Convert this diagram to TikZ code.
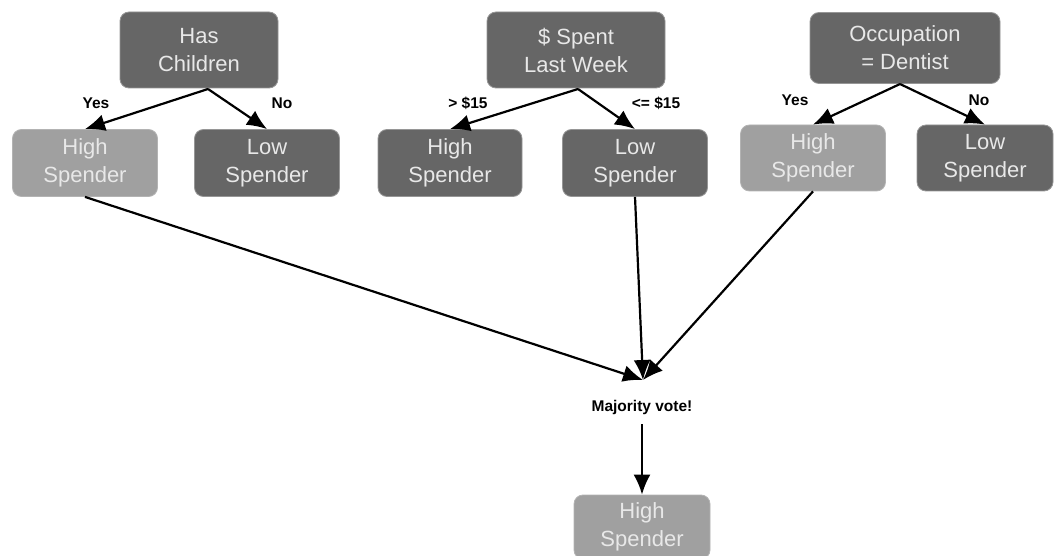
\documentclass[tikz,border=0pt]{standalone}
\usepackage{fontspec}
\setmainfont{Liberation Sans}
\usetikzlibrary{arrows.meta}
\definecolor{darkbox}{RGB}{102,102,102}
\definecolor{lightbox}{RGB}{160,160,160}
\definecolor{boxtext}{RGB}{232,232,232}
\definecolor{boxedge}{RGB}{150,150,150}
\tikzset{
  box/.style={draw=boxedge, line width=0.8pt, rounded corners=9pt, text=boxtext, align=center,
    font=\fontsize{22}{28}\selectfont, inner sep=0pt},
  darkb/.style={box, fill=darkbox},
  lightb/.style={box, fill=lightbox, draw=lightbox!80!white},
  conn/.style={line width=2.2pt, -{Latex[length=20pt,width=17pt]}},
  lab/.style={font=\bfseries\fontsize{15.5}{18}\selectfont, text=black},
}
\begin{document}
\begin{tikzpicture}[x=1pt,y=-1pt]
\useasboundingbox[fill=white] (0,0) rectangle (1054,556);
% roots
\node[darkb, minimum width=158pt, minimum height=76pt] (hc) at (199,50) {Has\\Children};
\node[darkb, minimum width=178pt, minimum height=76pt] (sp) at (576,50) {\$ Spent\\Last Week};
\node[darkb, minimum width=190pt, minimum height=71pt] (oc) at (905,48) {Occupation\\= Dentist};
% leaves
\node[lightb, minimum width=145pt, minimum height=67pt] (l1) at (85,163) {High\\Spender};
\node[darkb, minimum width=145pt, minimum height=67pt] (l2) at (267,163) {Low\\Spender};
\node[darkb, minimum width=144pt, minimum height=67pt] (m1) at (450,163) {High\\Spender};
\node[darkb, minimum width=145pt, minimum height=67pt] (m2) at (635,163) {Low\\Spender};
\node[lightb, minimum width=145pt, minimum height=66pt] (r1) at (813,158) {High\\Spender};
\node[darkb, minimum width=136pt, minimum height=66pt] (r2) at (985,158) {Low\\Spender};
% vote
\node[font=\bfseries\fontsize{15.5}{18}\selectfont, inner sep=2pt] (mv) at (642,407) {Majority vote!};
\coordinate (conv) at (643,380);
\node[lightb, minimum width=136pt, minimum height=64pt] (fin) at (642,527) {High\\Spender};
% tree edges
\coordinate (hcb) at (208,89);
\coordinate (spb) at (578,89);
\coordinate (ocb) at (900,84);
\draw[conn] (hcb) -- (l1.north);
\draw[conn] (hcb) -- (l2.north);
\draw[conn] (spb) -- (m1.north);
\draw[conn] (spb) -- (m2.north);
\draw[conn] (ocb) -- (r1.north);
\draw[conn] (ocb) -- (r2.north);
\node[lab] (y1) at (96,103) {Yes};
\node[lab] (n1) at (282,103) {No};
\node[lab] (g1) at (468,103) {> \$15};
\node[lab] (g2) at (656,103) {<= \$15};
\node[lab] (y3) at (795,100) {Yes};
\node[lab] (n3) at (979,100) {No};
% votes
\draw[conn] (l1.south) -- (conv);
\draw[conn] (m2.south) -- (conv);
\draw[conn] (r1.south) -- (conv);
\path (mv.south) ++(0,8) coordinate (mvs);
\draw[conn] (mvs) -- (fin.north);
\end{tikzpicture}
\end{document}
